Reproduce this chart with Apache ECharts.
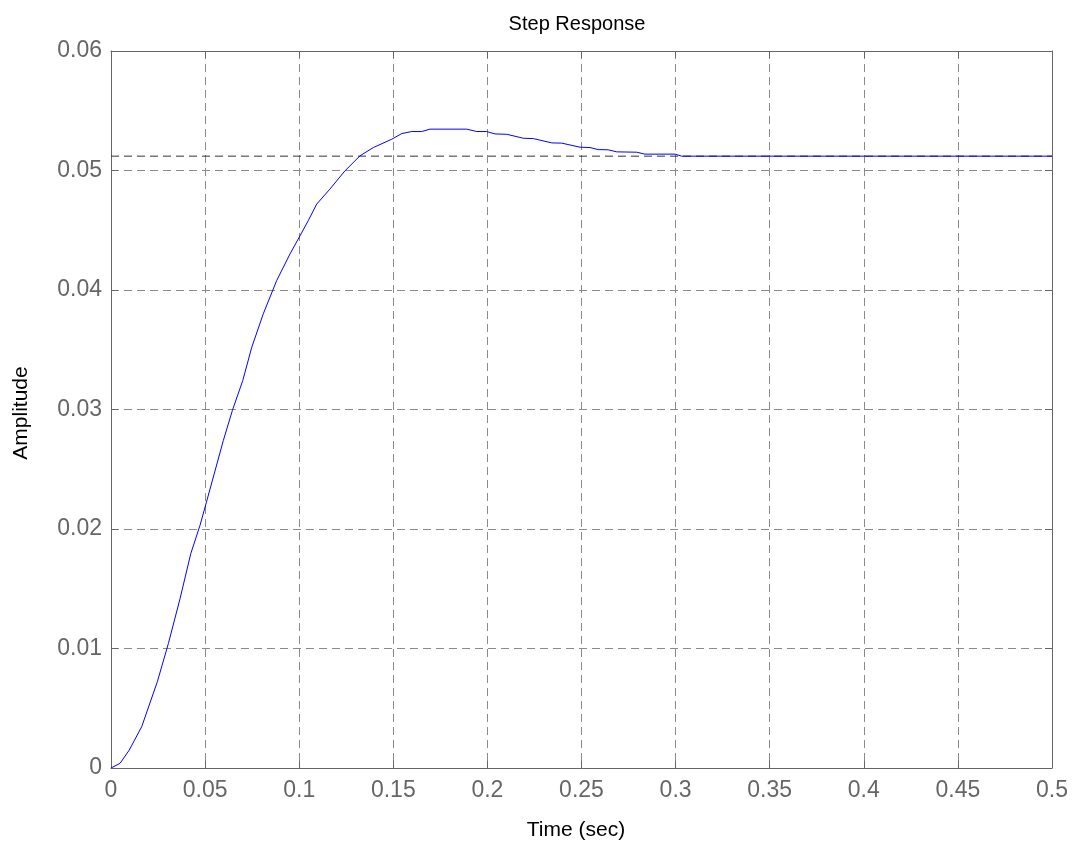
<!DOCTYPE html>
<html>
<head>
<meta charset="utf-8">
<script src="https://cdn.jsdelivr.net/npm/echarts@6/dist/echarts.min.js"></script>
<style>
html,body{margin:0;padding:0;background:#fff;}
#main{width:1078px;height:843px;}
</style>
</head>
<body>
<div id="main"></div>
<script>
const titleText = 'Step Response';
const xName = 'Time (sec)';
const yName = 'Amplitude';
const time = [0, 0.0048, 0.0097, 0.0163, 0.0246, 0.0305, 0.0367, 0.0424, 0.0473, 0.0500,
  0.0597, 0.0645, 0.0700, 0.0748, 0.0809, 0.0880, 0.0951, 0.0995, 0.1048, 0.1093,
  0.1163, 0.1243, 0.1323, 0.1394, 0.1492, 0.1545, 0.1598, 0.1651, 0.1695, 0.1890,
  0.1943, 0.1996, 0.2040, 0.2103, 0.2191, 0.2244, 0.2342, 0.2395, 0.2492, 0.2545,
  0.2589, 0.2642, 0.2687, 0.2793, 0.2837, 0.2997, 0.3032, 0.5];
const amplitude = [0, 0.00039, 0.00150, 0.00345, 0.00721, 0.01042, 0.01418, 0.01794, 0.02031, 0.02184,
  0.02741, 0.02992, 0.03242, 0.03521, 0.03800, 0.04078, 0.04301, 0.04427, 0.04580, 0.04719,
  0.04844, 0.04997, 0.05123, 0.05192, 0.05262, 0.05309, 0.05326, 0.05326, 0.05346, 0.05346,
  0.05326, 0.05326, 0.05306, 0.05303, 0.05270, 0.05267, 0.05231, 0.05229, 0.05195, 0.05192,
  0.05175, 0.05173, 0.05156, 0.05153, 0.05137, 0.05137, 0.05120, 0.05120];
const steadyState = 0.05120;
const steadyTime = [0, 0.5];
const xRange = [0, 0.5, 0.05];
const yRange = [0, 0.06, 0.01];

const fmt = v => String(+v.toFixed(3));
const fontFam = '"Liberation Sans", Arial, Helvetica, sans-serif';
const chart = echarts.init(document.getElementById('main'), null, {renderer: 'canvas'});

const baseAxis = {
  type: 'value',
  axisLine: {show: true, onZero: false, lineStyle: {color: '#666', width: 1}},
  axisTick: {show: true, inside: true, length: 7, lineStyle: {color: '#666'}},
  splitLine: {show: false},
  axisLabel: {show: false}
};

chart.setOption({
  animation: false,
  backgroundColor: '#fff',
  title: {
    text: titleText, left: 572, top: 9, textAlign: 'center',
    textStyle: {fontFamily: fontFam, fontSize: 20, fontWeight: 'normal', color: '#000'}
  },
  grid: {left: 111, right: 26, top: 51, bottom: 75, show: false},
  xAxis: [
    Object.assign({}, baseAxis, {
      position: 'bottom', min: xRange[0], max: xRange[1], interval: xRange[2],
      axisLabel: {show: true, margin: 11, color: '#666', fontSize: 23, fontFamily: fontFam, formatter: fmt},
      splitLine: {show: true, lineStyle: {color: '#8a8a8a', type: [8, 5], width: 1}}
    }),
    Object.assign({}, baseAxis, {position: 'top', min: xRange[0], max: xRange[1], interval: xRange[2]})
  ],
  yAxis: [
    Object.assign({}, baseAxis, {
      position: 'left', min: yRange[0], max: yRange[1], interval: yRange[2],
      axisLabel: {show: true, margin: 9, color: '#666', fontSize: 23, fontFamily: fontFam, formatter: fmt},
      splitLine: {show: true, lineStyle: {color: '#8a8a8a', type: [8, 5], width: 1}}
    }),
    Object.assign({}, baseAxis, {position: 'right', min: yRange[0], max: yRange[1], interval: yRange[2]})
  ],
  graphic: [
    {type: 'text', x: 576, y: 830, style: {text: xName, fontFamily: fontFam, fontSize: 21, fill: '#000', textAlign: 'center', textVerticalAlign: 'middle'}},
    {type: 'text', x: 21, y: 413, rotation: Math.PI / 2, style: {text: yName, fontFamily: fontFam, fontSize: 21, fill: '#000', textAlign: 'center', textVerticalAlign: 'middle'}}
  ],
  series: [
    {
      type: 'line',
      data: steadyTime.map(t => [t, steadyState]),
      showSymbol: false,
      symbol: 'none',
      silent: true,
      lineStyle: {color: '#333', type: [8, 5], width: 1},
      z: 3
    },
    {
      type: 'line',
      data: time.map((t, i) => [t, amplitude[i]]),
      showSymbol: false,
      symbol: 'none',
      lineStyle: {color: '#0000ff', width: 1},
      z: 5
    }
  ]
});
</script>
</body>
</html>
